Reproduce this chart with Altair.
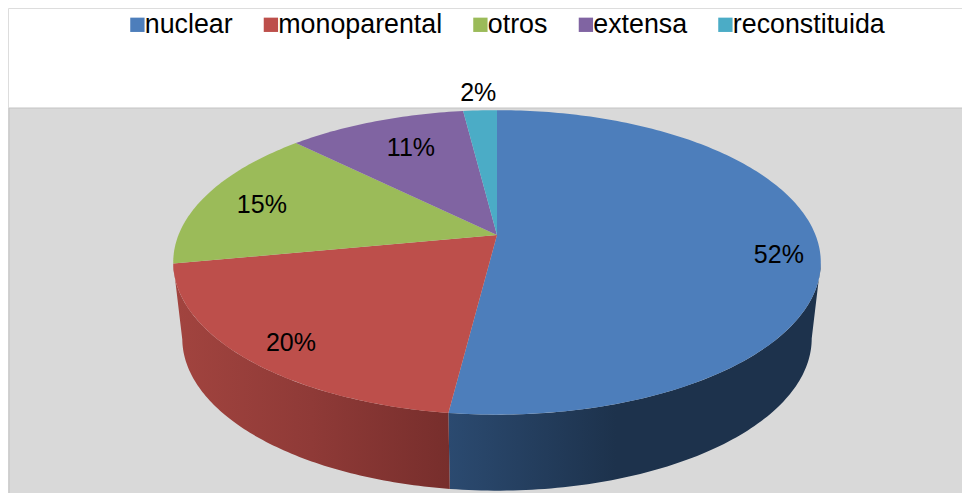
import math
import altair as alt
import pandas as pd

categories = ["nuclear", "monoparental", "otros", "extensa", "reconstituida"]
shares = [52, 20, 15.4, 10.6, 2.0]
colors = ["#4d7ebb", "#bd4f4b", "#9bbb59", "#8064a2", "#4bacc6"]
label_radius = [0.874, 0.864, 0.795, 0.727, 1.169]
label_shift = [5.1, -1.8, -1.5, 1.7, 0.1]

W, H = 954, 485
CX, CY, A, B, K = 489, 235, 318.5, 105, -0.18
TOP = 8
DEPTH, SHRINK = 76, 0.972


def rim(theta, r=1.0):
    s, t = r * math.sin(math.radians(theta)), -r * math.cos(math.radians(theta))
    w = 1 + K * t
    return CX + A * s / w, (CY + B * t) / w - TOP


def low(theta):
    x, y = rim(theta)
    return CX + (x - CX) * SHRINK, y + DEPTH


x_s = alt.Scale(domain=[0, W], range=[0, W], nice=False, zero=False)
y_s = alt.Scale(domain=[0, H], range=[0, H], nice=False, zero=False)
X = lambda: alt.X("x:Q", scale=x_s, axis=None)
Y = lambda: alt.Y("y:Q", scale=y_s, axis=None)

total = sum(shares)
rows, cum, label_rows = [], 0.0, []
edges = []
for c, v, r, d in zip(categories, shares, label_radius, label_shift):
    a0, a1 = cum / total * 360, (cum + v) / total * 360
    edges.append((a0, a1))
    i = 0
    ax, ay = rim(0, 0)
    rows.append({"slice": c, "i": i, "x": ax, "y": ay})
    n = max(4, int(a1 - a0))
    for j in range(n + 1):
        i += 1
        px, py = rim(a0 + (a1 - a0) * j / n)
        rows.append({"slice": c, "i": i, "x": px, "y": py})
    lx, ly = rim((a0 + a1) / 2 + d, r)
    label_rows.append({"x": lx, "y": ly, "txt": f"{round(v / total * 100)}%"})
    cum += v


def wall(a0, a1, n=90):
    out = []
    angs = [a0 + (a1 - a0) * j / n for j in range(n + 1)]
    for i, a in enumerate(angs):
        px, py = rim(a)
        out.append({"i": i, "x": px, "y": py})
    for i, a in enumerate(reversed(angs)):
        px, py = low(a)
        out.append({"i": n + 1 + i, "x": px, "y": py})
    return pd.DataFrame(out)


SIL_R, SIL_L = 100.4, 259.6
blue_wall = wall(SIL_R, edges[0][1])
red_wall = wall(edges[1][0], min(edges[1][1], SIL_L))


def gradient(stops):
    return alt.Gradient(
        gradient="linear", x1=0, x2=1, y1=0, y2=0,
        stops=[alt.GradientStop(color=c, offset=o) for o, c in stops],
    )


frame = alt.Chart(pd.DataFrame({"x": [1], "x2": [W + 4], "y": [100], "y2": [H + 4]})).mark_rect(
    fill="#d9d9d9", stroke="#c4c4c4", strokeWidth=1
).encode(x=X(), x2="x2:Q", y=Y(), y2="y2:Q")

wall_blue = alt.Chart(blue_wall).mark_line(
    fill=gradient([(0, "#2b4a70"), (0.45, "#1d324c"), (1, "#1d324c")]), strokeOpacity=0
).encode(x=X(), y=Y(), order="i:Q")
wall_red = alt.Chart(red_wall).mark_line(
    fill=gradient([(0, "#a2443f"), (0.5, "#8f3a37"), (1, "#772e2c")]), strokeOpacity=0
).encode(x=X(), y=Y(), order="i:Q")

top = alt.Chart(pd.DataFrame(rows)).mark_line(strokeOpacity=0).encode(
    x=X(), y=Y(), order="i:Q",
    fill=alt.Fill(
        "slice:N",
        scale=alt.Scale(domain=categories, range=colors),
        sort=categories,
        legend=alt.Legend(
            title=None, orient="none", legendX=116, legendY=3, direction="horizontal",
            columns=5, symbolType="square", symbolSize=205, symbolStrokeWidth=0, symbolOpacity=1,
            labelFont="Liberation Sans", labelFontSize=26.8, labelColor="#000000",
            labelOffset={"expr": "-6"},
            labelLimit=300, columnPadding=24.5, symbolOffset=0,
        ),
    ),
)

labels = alt.Chart(pd.DataFrame(label_rows)).mark_text(
    font="Liberation Sans", fontSize=25, color="#000000", baseline="middle", align="center"
).encode(x=X(), y=Y(), text="txt:N")

chart = (
    alt.layer(frame, wall_blue, wall_red, top, labels)
    .properties(width=W, height=H, padding=0, background="#ffffff")
    .configure_view(stroke=None)
    .configure(autosize=alt.AutoSizeParams(type="none"))
)
chart.save("out.html", embed_options={"renderer": "svg", "actions": False})
